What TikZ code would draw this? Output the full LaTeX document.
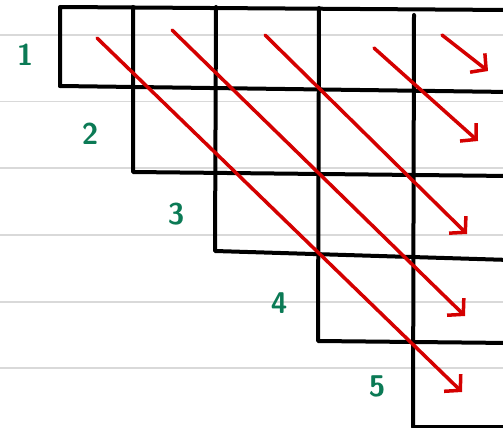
\documentclass[tikz,border=0pt]{standalone}
\usepackage{xcolor}
\usepackage{tikz}
\usetikzlibrary{arrows.meta, calc}

\definecolor{penred}{HTML}{D40000}
\definecolor{pengreen}{HTML}{0B7A55}
\definecolor{ruled}{HTML}{D9D9D9}

\tikzset{
    rule/.style={ruled, line width=1.5pt},
    cell/.style={black, line width=4pt, line cap=round, line join=round},
    diag/.style={penred, line width=3.5pt, line cap=round,
        -{Straight Barb[length=11pt, width=24pt, line width=3.5pt]}},
    rowlabel/.style={pengreen, font=\sffamily\bfseries\fontsize{30}{30}\selectfont, inner sep=0pt}
}

\begin{document}
\begin{tikzpicture}[x=1pt, y=-1pt]
    \useasboundingbox (0,0) rectangle (503,428);
    \clip (0,0) rectangle (503,428);

    % Ruled paper
    \foreach \y in {35, 101.5, 168, 235, 302, 368}
        \draw[rule] (0,\y) -- (503,\y);

    % Staircase of cells
    \draw[cell] (60,86) -- (60,7) -- (510,10);
    \draw[cell] (60,86) -- (510,92);
    \draw[cell] (133,7) -- (133,172) -- (510,176);
    \draw[cell] (216,7) -- (215,251) -- (510,260);
    \draw[cell] (319,8) -- (318,341) -- (510,343);
    \draw[cell] (414,15) -- (413,427) -- (510,427);

    % Row numbers
    \node[rowlabel] (n1) at (25,55) {1};
    \node[rowlabel] (n2) at (90,134) {2};
    \node[rowlabel] (n3) at (176,214) {3};
    \node[rowlabel] (n4) at (279,303) {4};
    \node[rowlabel] (n5) at (377,386) {5};

    % Diagonal arrows
    \coordinate (s1) at (97,38);   \coordinate (e1) at (462,392);
    \coordinate (s2) at (172,30);  \coordinate (e2) at (465,316);
    \coordinate (s3) at (265,35);  \coordinate (e3) at (467,234);
    \coordinate (s4) at (374,48);  \coordinate (e4) at (478,141);
    \coordinate (s5) at (442,35);  \coordinate (e5) at (488,71);
    \foreach \i in {1,...,5}
        \draw[diag] (s\i) -- (e\i);
\end{tikzpicture}
\end{document}
